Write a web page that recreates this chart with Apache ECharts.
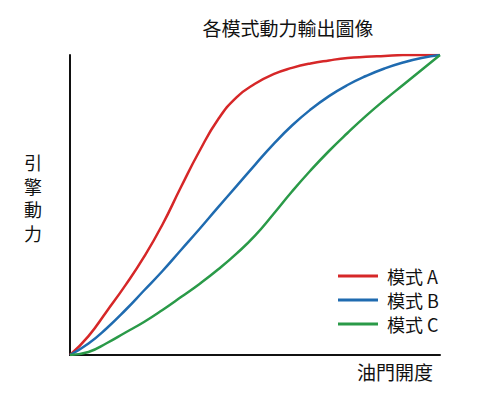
<!DOCTYPE html>
<html>
<head>
<meta charset="utf-8">
<script src="https://cdn.jsdelivr.net/npm/echarts@6/dist/echarts.min.js"></script>
<style>
html,body{margin:0;padding:0;background:#fff;}
#chart{width:482px;height:395px;}
</style>
</head>
<body>
<div id="chart"></div>
<script>
var throttle = [0,5,10,15,20,25,30,35,40,45,50,55,60,65,70,75,80,85,90,95,100];
var modeA = [0,6.3,14.7,23.3,32.7,43.5,56,68,78.5,85.9,90.4,93.6,95.7,97.2,98.2,99,99.4,99.7,100,100,100];
var modeB = [0,3.8,9,15,21.5,28,35,42,49.2,56.3,63.4,70.3,76.5,81.8,86.3,90,93,95.5,97.5,99,100];
var modeC = [0,1,4,7.5,11,15,19.3,23.7,28.5,33.8,39.8,47,54.5,61.5,68,74,79.7,85,90,95,100];
var seriesNames = ['模式 A','模式 B','模式 C'];
var yLabelChars = ['引','擎','動','力'];
var colors = ['#d62728','#1f6bb0','#2a9a48'];

function pairs(arr){ return throttle.map(function(x,i){ return [x, arr[i]]; }); }
var allData = [modeA, modeB, modeC];

var font = '"Noto Sans CJK TC", "Noto Sans CJK SC", "Noto Sans", sans-serif';
var chart = echarts.init(document.getElementById('chart'), null, {renderer:'svg'});
chart.setOption({
  backgroundColor:'#fff',
  animation:false,
  textStyle:{fontFamily:font},
  title:{
    text:'各模式動力輸出圖像',
    left:283, top:13, textAlign:'center',
    textStyle:{fontFamily:font,fontSize:19,fontWeight:'normal',color:'#111'}
  },
  grid:{left:70,right:42,top:55,bottom:40},
  legend:{
    orient:'vertical',
    left:333, top:262,
    itemWidth:40, itemHeight:3, itemGap:6,
    icon:'rect',
    data:seriesNames,
    textStyle:{fontFamily:font,fontSize:18,lineHeight:18,color:'#111',padding:[0,0,0,4]}
  },
  graphic: yLabelChars.map(function(c,i){
    return {
      type:'text', x:33, y:162 + i*23.5,
      style:{text:c, font:'18px ' + font, fill:'#111',
        textAlign:'center', textVerticalAlign:'middle'}
    };
  }),
  xAxis:{
    type:'value', min:0, max:100,
    name:'油門開度', nameLocation:'end', nameGap:-7,
    nameTextStyle:{fontFamily:font,fontSize:19,color:'#111',align:'right',verticalAlign:'top',padding:[7,0,0,0]},
    axisLine:{show:true,lineStyle:{color:'#111',width:2}},
    axisTick:{show:false}, axisLabel:{show:false}, splitLine:{show:false}
  },
  yAxis:{
    type:'value', min:0, max:100,
    axisLine:{show:true,lineStyle:{color:'#111',width:2}},
    axisTick:{show:false}, axisLabel:{show:false}, splitLine:{show:false}
  },
  series: seriesNames.map(function(n,i){
    return {
      name:n, type:'line', data:pairs(allData[i]),
      smooth:0.5, showSymbol:false, symbol:'none',
      lineStyle:{color:colors[i],width:2.5},
      itemStyle:{color:colors[i]}
    };
  })
});
</script>
</body>
</html>
